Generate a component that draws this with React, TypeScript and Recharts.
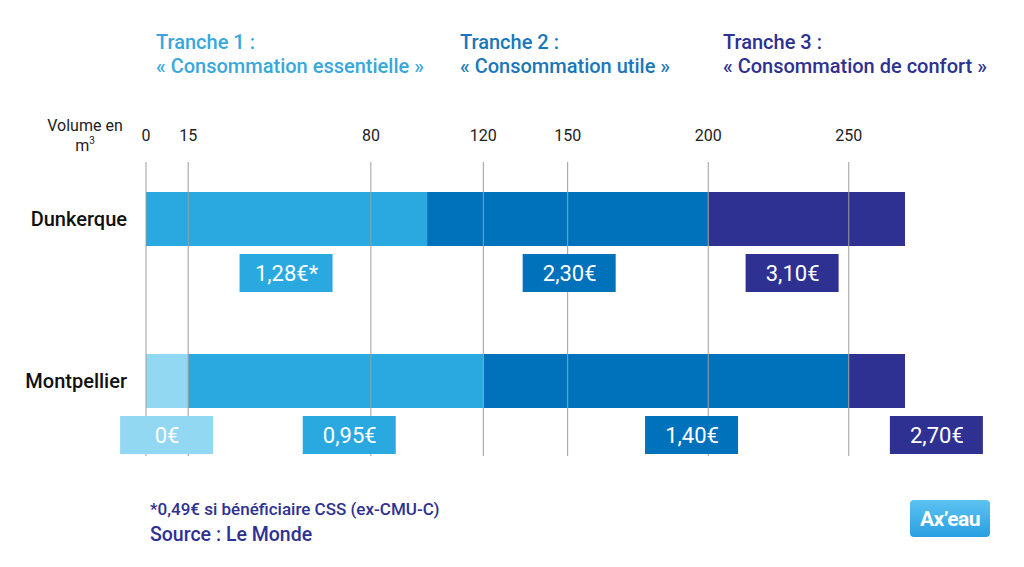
import { BarChart, Bar, XAxis, YAxis, CartesianGrid, LabelList } from 'recharts';

// volumes in m3 for each price band
const cities = ['Dunkerque', 'Montpellier'];
const freeVolume = [0, 15];
const tranche1Volume = [100, 105];
const tranche2Volume = [100, 130];
const tranche3Volume = [70, 20];

// price per m3 shown under each band
const freePrice = ['', '0€'];
const tranche1Price = ['1,28€*', '0,95€'];
const tranche2Price = ['2,30€', '1,40€'];
const tranche3Price = ['3,10€', '2,70€'];

const volumeTicks = [0, 15, 80, 120, 150, 200, 250];

const PALE = '#93d8f3';
const LIGHT = '#29a9e0';
const MID = '#0071bb';
const DARK = '#2e3192';
const GRID = '#9d9d9d';
const FONT = 'Roboto, "Noto Sans", sans-serif';

const chartData = cities.map((city, i) => ({
    city,
    free: freeVolume[i],
    t1: tranche1Volume[i],
    t2: tranche2Volume[i],
    t3: tranche3Volume[i],
    freeLabel: freePrice[i],
    t1Label: tranche1Price[i],
    t2Label: tranche2Price[i],
    t3Label: tranche3Price[i],
}));

// price box drawn just under its segment
const priceBox = (fill: string, shift: number[]) => (props: any) => {
    const vb = props.viewBox && props.viewBox.width !== undefined ? props.viewBox : props;
    const { x, y, width, height } = vb;
    const value = props.value;
    if (!value) return null;
    const idx = props.index ?? 0;
    const cx = x + width / 2 + (shift[idx] ?? 0);
    const top = y + height + 8;
    return (
        <g key={`box-${value}`}>
            <rect x={cx - 47} y={top} width={93} height={38} fill={fill} />
            <text
                x={cx}
                y={top + 27}
                textAnchor="middle"
                fill="#ffffff"
                fontSize={22}
                fontFamily={FONT}
            >
                {value}
            </text>
        </g>
    );
};

const VolumeTick = (props: any) => {
    const { x, y, payload } = props;
    return (
        <text x={x} y={y + 5} textAnchor="middle" fontSize={16} fill="#222" fontFamily={FONT}>
            {payload.value}
        </text>
    );
};

const CityTick = (props: any) => {
    const { x, y, payload } = props;
    return (
        <text x={x} y={y + 7} textAnchor="end" fontSize={20} fontWeight={500} fill="#111" fontFamily={FONT}>
            {payload.value}
        </text>
    );
};

export default function App() {
    return (
        <div style={{ position: 'absolute', left: 0, top: 0, width: 1024, height: 567, background: '#fff', fontFamily: FONT }}>
            <BarChart
                width={1024}
                height={567}
                data={chartData}
                layout="vertical"
                barSize={54}
                margin={{ top: 108, right: 119, bottom: 105, left: 16 }}
            >
                <XAxis
                    type="number"
                    orientation="top"
                    domain={[0, 270]}
                    ticks={volumeTicks}
                    axisLine={false}
                    tickLine={false}
                    tickSize={0}
                    height={30}
                    tick={<VolumeTick />}
                />
                <YAxis
                    type="category"
                    dataKey="city"
                    width={130}
                    axisLine={false}
                    tickLine={false}
                    tickSize={0}
                    tickMargin={19}
                    tick={<CityTick />}
                />
                <Bar dataKey="free" stackId="v" fill={PALE} isAnimationActive={false}>
                    <LabelList dataKey="freeLabel" content={priceBox(PALE, [0, 5])} />
                </Bar>
                <Bar dataKey="t1" stackId="v" fill={LIGHT} isAnimationActive={false}>
                    <LabelList dataKey="t1Label" content={priceBox(LIGHT, [0, 14])} />
                </Bar>
                <Bar dataKey="t2" stackId="v" fill={MID} isAnimationActive={false}>
                    <LabelList dataKey="t2Label" content={priceBox(MID, [2, 26])} />
                </Bar>
                <Bar dataKey="t3" stackId="v" fill={DARK} isAnimationActive={false}>
                    <LabelList dataKey="t3Label" content={priceBox(DARK, [-14, 60])} />
                </Bar>
                <CartesianGrid
                    horizontal={false}
                    syncWithTicks
                    zIndex={500}
                    vertical={(p: any) => (
                        <line
                            key={`grid-${p.x1}`}
                            x1={p.x1}
                            x2={p.x2}
                            y1={p.y1 + 24}
                            y2={p.y2 - 6}
                            stroke={GRID}
                            strokeWidth={1}
                        />
                    )}
                />
            </BarChart>

            <svg width={1024} height={567} style={{ position: 'absolute', left: 0, top: 0, pointerEvents: 'none' }}>
                <g fontFamily={FONT} fontSize={20} fontWeight={500}>
                    <text x={156} y={49} fill="#3aa7dc">Tranche 1 :</text>
                    <text x={156} y={73} fill="#3aa7dc">« Consommation essentielle »</text>
                    <text x={460} y={49} fill="#1a77b9">Tranche 2 :</text>
                    <text x={460} y={73} fill="#1a77b9">« Consommation utile »</text>
                    <text x={723} y={49} fill={DARK}>Tranche 3 :</text>
                    <text x={723} y={73} fill={DARK}>« Consommation de confort »</text>
                </g>
                <g fontFamily={FONT} fontSize={16} fill="#222" textAnchor="middle">
                    <text x={85} y={131}>Volume en</text>
                    <text x={85} y={151}>
                        m<tspan fontSize={10} dy={-7}>3</tspan>
                    </text>
                </g>
                <text x={150} y={515} fontFamily={FONT} fontSize={17} fontWeight={500} fill={DARK}>
                    *0,49€ si bénéficiaire CSS (ex-CMU-C)
                </text>
                <text x={150} y={541} fontFamily={FONT} fontSize={19.5} fontWeight={500} fill={DARK}>
                    Source : Le Monde
                </text>
                <defs>
                    <linearGradient id="logoGrad" x1="0" y1="0" x2="0" y2="1">
                        <stop offset="0%" stopColor="#5cc3f2" />
                        <stop offset="100%" stopColor="#2a9fe0" />
                    </linearGradient>
                </defs>
                <rect x={910} y={500} width={80} height={37} rx={4} fill="url(#logoGrad)" />
                <text
                    x={950}
                    y={526}
                    textAnchor="middle"
                    fontFamily={FONT}
                    fontSize={21}
                    fontWeight={700}
                    fill="#fff"
                    letterSpacing={-0.5}
                >
                    Ax’eau
                </text>
            </svg>
        </div>
    );
}
